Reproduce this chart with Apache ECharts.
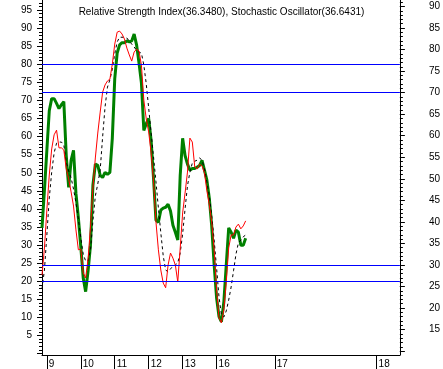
<!DOCTYPE html>
<html><head><meta charset="utf-8">
<script src="https://cdn.jsdelivr.net/npm/echarts@6/dist/echarts.min.js"></script>
<style>html,body{margin:0;padding:0;background:#fff}#c{width:443px;height:369px}</style>
</head><body><div id="c"></div>
<script>
// bar index (14 bars per day)
const barIndex = [0,1,2,3,4,5,6,7,8,9,10,11,12,13,14,15,16,17,18,19,20,21,22,23,24,25,26,27,28,29,
  30,31,32,33,34,35,36,37,38,39,40,41,42,43,44,45,46,47,48,49,50,51,52,53,54,55,56,57,58,59,
  60,61,62,63,64,65,66,67,68,69,70,71,72,73,74,75,76,77,78,79,80,81,82,83,84];
// Relative Strength Index (right axis)
const rsiValues = [38.6,47.3,56.6,65.8,68.6,68.6,67.5,66.3,67.2,67.9,
  55.4,48.0,54.3,56.6,46.6,40.9,34.2,27.0,23.8,28.6,
  34.6,48.5,53.4,53.1,50.8,50.3,51.5,51.0,51.5,59.4,
  73.2,79.2,81.1,81.6,81.6,82.0,81.8,82.0,83.6,81.1,
  76.9,72.3,61.2,62.8,64.0,58.9,50.1,40.4,39.9,42.7,
  43.2,43.4,44.1,42.5,39.2,37.6,35.8,50.8,59.4,55.4,
  53.4,52.0,52.4,52.4,52.7,53.1,54.3,52.0,49.7,45.5,
  39.0,30.0,22.4,18.0,16.8,21.4,30.0,38.6,37.6,36.2,
  38.1,37.6,34.6,34.6,36.2];
// Stochastic %K (left axis)
const stochK = [21.7,29.2,39.7,49.4,56.6,60.5,61.8,56.9,56.9,56.3,
  51.1,48.3,44.7,40.8,34.2,28.7,28.9,22.3,20.9,26.2,
  35.0,45.8,54.1,61.0,66.8,72.3,74.3,75.4,75.9,80.1,
  85.6,88.9,89.2,88.4,87.0,84.5,82.6,80.9,83.4,84.2,
  83.7,79.8,70.1,64.9,61.3,55.5,47.7,36.4,28.7,23.1,
  19.5,18.2,24.5,27.8,26.4,24.5,19.8,29.2,38.9,44.4,
  50.2,59.6,58.5,51.6,51.1,52.4,51.9,50.0,45.0,41.1,
  36.4,28.7,17.6,9.9,8.5,12.1,19.8,29.2,32.8,32.8,
  35.0,35.8,34.5,35.3,36.7];
// Stochastic %D (left axis)
const stochD = [17.9,23.1,32.8,43.0,50.2,55.5,58.2,58.5,58.5,57.7,
  53.0,50.5,48.6,45.5,41.7,37.2,32.0,27.5,25.6,25.6,
  28.6,36.7,43.6,46.9,50.8,59.9,68.2,73.7,75.7,78.7,
  82.9,86.2,87.5,87.5,87.5,87.3,86.4,85.6,84.8,83.9,
  83.4,83.1,79.8,74.6,67.9,61.0,54.4,47.5,40.3,33.4,
  27.0,23.1,22.6,23.4,24.2,24.5,25.1,27.8,33.1,40.0,
  46.4,50.2,52.7,53.2,53.5,54.1,53.5,51.1,47.5,43.6,
  38.1,31.4,23.7,15.7,10.7,10.1,11.8,14.8,18.4,22.9,
  27.5,30.6,31.4,32.3,32.8];
const tickBars = [2,16,30,44,58,72,96,138];
const tickLabels = ['9','10','11','12','13','16','17','18'];
const leftLabelValues = [5,10,15,20,25,30,35,40,45,50,55,60,65,70,75,80,85,90,95];
const rightLabelValues = [15,20,25,30,35,40,45,50,55,60,65,70,75,80,85,90];
const stochLevels = [80,20];
const rsiLevels = [70,30];
const titleText = 'Relative Strength Index(36.3480), Stochastic Oscillator(36.6431)';

const leftMajor = [0].concat(leftLabelValues);
const rightMajor = [10].concat(rightLabelValues);
const leftMinor = []; for (let v = 0; v <= 97; v++) leftMinor.push(v);
const rightMinor = []; for (let v = 10; v <= 91; v++) rightMinor.push(v);

const FONT = 'Liberation Sans, Arial, sans-serif';
const LMIN = -0.4, LMAX = 97.8, RMIN = 9.1, RMAX = 91.5;
const pairs = vals => barIndex.map((b, i) => [b, vals[i]]);

const chart = echarts.init(document.getElementById('c'), null, {renderer: 'canvas'});
const yBase = (pos, min, max) => ({
  type: 'value', position: pos, min: min, max: max, splitLine: {show: false}
});
chart.setOption({
  animation: false,
  backgroundColor: '#fff',
  title: {text: titleText, left: 'center', top: 2,
    textStyle: {fontSize: 10, fontWeight: 'normal', color: '#000', fontFamily: FONT}},
  grid: {left: 42, right: 41, top: 0, bottom: 14},
  xAxis: {
    type: 'value', min: 0, max: 147.6, splitLine: {show: false},
    axisLine: {show: true, onZero: false, lineStyle: {color: '#000', width: 1}},
    axisTick: {show: true, customValues: tickBars, length: 14, lineStyle: {color: '#000'}},
    axisLabel: {customValues: tickBars, formatter: v => tickLabels[tickBars.indexOf(v)],
      align: 'left', padding: [0, 0, 0, 2], margin: 4, fontSize: 10, color: '#000', fontFamily: FONT}
  },
  yAxis: [
    Object.assign(yBase('left', LMIN, LMAX), {
      axisLine: {show: true, lineStyle: {color: '#000'}},
      axisTick: {show: true, customValues: leftMajor, length: 5, lineStyle: {color: '#000'}},
      axisLabel: {customValues: leftLabelValues, margin: 10, fontSize: 10, color: '#000', fontFamily: FONT}
    }),
    Object.assign(yBase('right', RMIN, RMAX), {
      axisLine: {show: true, lineStyle: {color: '#000'}},
      axisTick: {show: true, customValues: rightMajor, length: 5, lineStyle: {color: '#000'}},
      axisLabel: {customValues: rightLabelValues, margin: 29, align: 'left', fontSize: 10, color: '#000', fontFamily: FONT}
    }),
    Object.assign(yBase('left', LMIN, LMAX), {
      axisLine: {show: false},
      axisTick: {show: true, customValues: leftMinor, length: 3, lineStyle: {color: '#000'}},
      axisLabel: {show: false}
    }),
    Object.assign(yBase('right', RMIN, RMAX), {
      axisLine: {show: false},
      axisTick: {show: true, customValues: rightMinor, length: 3, lineStyle: {color: '#000'}},
      axisLabel: {show: false}
    })
  ],
  series: [
    {type: 'line', yAxisIndex: 0, data: [], z: 1, silent: true,
      markLine: {silent: true, symbol: 'none', label: {show: false},
        lineStyle: {color: '#0000ff', width: 1, type: 'solid'},
        data: stochLevels.map(v => ({yAxis: v}))}},
    {type: 'line', yAxisIndex: 1, data: [], z: 1, silent: true,
      markLine: {silent: true, symbol: 'none', label: {show: false},
        lineStyle: {color: '#0000ff', width: 1, type: 'solid'},
        data: rsiLevels.map(v => ({yAxis: v}))}},
    {name: 'RSI', type: 'line', yAxisIndex: 1, data: pairs(rsiValues), z: 2,
      showSymbol: false, lineStyle: {color: '#008000', width: 3}, itemStyle: {color: '#008000'}},
    {name: '%D', type: 'line', yAxisIndex: 0, data: pairs(stochD), z: 3,
      showSymbol: false, lineStyle: {color: '#000', width: 1, type: [3, 3]}, itemStyle: {color: '#000'}},
    {name: '%K', type: 'line', yAxisIndex: 0, data: pairs(stochK), z: 4,
      showSymbol: false, lineStyle: {color: '#ff0000', width: 1}, itemStyle: {color: '#ff0000'}}
  ]
});
</script>
</body></html>
